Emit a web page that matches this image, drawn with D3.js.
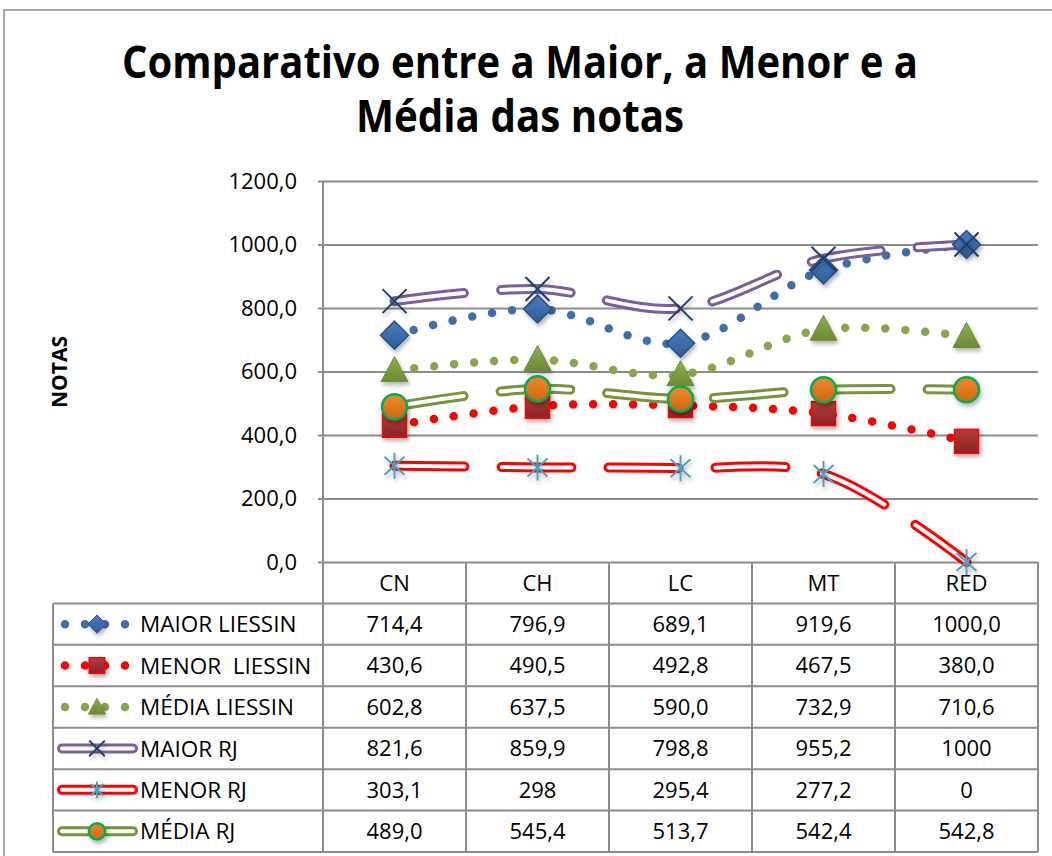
<!DOCTYPE html>
<html>
<head>
<meta charset="utf-8">
<script src="https://cdn.jsdelivr.net/npm/d3@7"></script>
<style>
  body { margin: 0; background: #fff; }
  text { font-family: "Open Sans", "Noto Sans", sans-serif; fill: #000; }
</style>
</head>
<body>
<div id="chart"></div>
<script>
var categories = ["CN", "CH", "LC", "MT", "RED"];
var seriesNames = ["MAIOR LIESSIN", "MENOR  LIESSIN", "MÉDIA LIESSIN", "MAIOR RJ", "MENOR RJ", "MÉDIA RJ"];

var maiorLiessin = [714.4, 796.9, 689.1, 919.6, 1000.0];
var menorLiessin = [430.6, 490.5, 492.8, 467.5, 380.0];
var mediaLiessin = [602.8, 637.5, 590.0, 732.9, 710.6];
var maiorRJ = [821.6, 859.9, 798.8, 955.2, 1000];
var menorRJ = [303.1, 298, 295.4, 277.2, 0];
var mediaRJ = [489.0, 545.4, 513.7, 542.4, 542.8];

// as printed in the data table
var maiorLiessinLabels = ["714,4", "796,9", "689,1", "919,6", "1000,0"];
var menorLiessinLabels = ["430,6", "490,5", "492,8", "467,5", "380,0"];
var mediaLiessinLabels = ["602,8", "637,5", "590,0", "732,9", "710,6"];
var maiorRJLabels = ["821,6", "859,9", "798,8", "955,2", "1000"];
var menorRJLabels = ["303,1", "298", "295,4", "277,2", "0"];
var mediaRJLabels = ["489,0", "545,4", "513,7", "542,4", "542,8"];

var yTicks = [0, 200, 400, 600, 800, 1000, 1200];

var width = 1052, height = 856;
var plotLeft = 323, plotRight = 1038, plotTop = 181, plotBottom = 562;
var tableLeft = 53, tableBottom = 852;

var series = [
  {name: seriesNames[0], values: maiorLiessin, labels: maiorLiessinLabels, style: "dot", color: "#3F6FAA", marker: "diamond"},
  {name: seriesNames[1], values: menorLiessin, labels: menorLiessinLabels, style: "dot", color: "#FF0000", marker: "square"},
  {name: seriesNames[2], values: mediaLiessin, labels: mediaLiessinLabels, style: "dot", color: "#8AA64C", marker: "triangle"},
  {name: seriesNames[3], values: maiorRJ, labels: maiorRJLabels, style: "hollow", color: "#7B5E9E", marker: "cross"},
  {name: seriesNames[4], values: menorRJ, labels: menorRJLabels, style: "hollow", color: "#FF0000", marker: "star"},
  {name: seriesNames[5], values: mediaRJ, labels: mediaRJLabels, style: "hollow", color: "#77933C", marker: "circle"}
];

var svg = d3.select("#chart")
    .append("svg")
    .attr("width", width)
    .attr("height", height);

var defs = svg.append("defs");

function grad(id, c1, c2) {
  var g = defs.append("linearGradient").attr("id", id)
      .attr("x1", 0).attr("y1", 0).attr("x2", 0).attr("y2", 1);
  g.append("stop").attr("offset", "0%").attr("stop-color", c1);
  g.append("stop").attr("offset", "100%").attr("stop-color", c2);
}
grad("gBlue", "#4A7EC0", "#2E5C97");
grad("gRed", "#B83B3B", "#8A2424");
grad("gGreen", "#8DB04D", "#6C8A33");
grad("gOrange", "#F08A2C", "#D2640E");

defs.append("filter").attr("id", "shadow")
    .attr("x", "-50%").attr("y", "-50%").attr("width", "200%").attr("height", "200%")
  .append("feDropShadow")
    .attr("dx", 1.5).attr("dy", 3).attr("stdDeviation", 2)
    .attr("flood-color", "#000").attr("flood-opacity", 0.3);

// outer frame
svg.append("rect")
    .attr("x", 4).attr("y", 10)
    .attr("width", width + 20).attr("height", height + 20)
    .attr("fill", "none").attr("stroke", "#8C8C8C").attr("stroke-width", 1.5);

// title
var titleLines = ["Comparativo entre a Maior, a Menor e a", "Média das notas"];
var titleWidths = [796, 328];
svg.selectAll(".title")
    .data(titleLines)
    .enter()
    .append("text")
    .attr("class", "title")
    .attr("x", 520)
    .attr("y", function(d, i) { return 78 + i * 54; })
    .attr("text-anchor", "middle")
    .attr("font-size", 44)
    .attr("font-weight", "bold")
    .attr("textLength", function(d, i) { return titleWidths[i]; })
    .attr("lengthAdjust", "spacingAndGlyphs")
    .text(function(d) { return d; });

var x = d3.scaleBand()
    .domain(categories)
    .range([plotLeft, plotRight]);

var y = d3.scaleLinear()
    .domain([0, 1200])
    .range([plotBottom, plotTop]);

function cx(i) { return x(categories[i]) + x.bandwidth() / 2; }

// gridlines
svg.append("g")
    .attr("transform", "translate(" + plotLeft + ",0)")
    .call(d3.axisLeft(y).tickValues(yTicks).tickSize(-(plotRight - plotLeft)).tickFormat(""))
    .call(function(g) {
      g.select(".domain").remove();
      g.selectAll("line").attr("stroke", "#8C8C8C").attr("stroke-width", 2);
    });

// y axis
svg.append("g")
    .attr("transform", "translate(" + plotLeft + ",0)")
    .call(d3.axisLeft(y)
      .tickValues(yTicks)
      .tickSize(5)
      .tickPadding(21)
      .tickFormat(function(d) { return d3.format(".1f")(d).replace(".", ","); }))
    .call(function(g) {
      g.select(".domain").attr("stroke", "#8C8C8C").attr("stroke-width", 2)
        .attr("d", "M0," + plotTop + "V" + tableBottom);
      g.selectAll(".tick line").attr("stroke", "#8C8C8C").attr("stroke-width", 2);
      g.selectAll(".tick text")
        .attr("font-size", 22)
        .attr("font-family", "'Open Sans', sans-serif")
        .attr("fill", "#000");
    });

svg.append("text")
    .attr("transform", "translate(67,372) rotate(-90)")
    .attr("text-anchor", "middle")
    .attr("font-size", 21)
    .attr("font-weight", "bold")
    .text("NOTAS");

// data table
var rowH = (tableBottom - plotBottom) / 7;
var table = svg.append("g").attr("stroke", "#8C8C8C").attr("stroke-width", 2);
d3.range(1, 8).forEach(function(r) {
  table.append("line")
      .attr("x1", tableLeft).attr("x2", plotRight)
      .attr("y1", plotBottom + r * rowH).attr("y2", plotBottom + r * rowH);
});
table.append("line")
    .attr("x1", tableLeft).attr("x2", tableLeft)
    .attr("y1", plotBottom + rowH).attr("y2", tableBottom);
categories.forEach(function(c, i) {
  table.append("line")
      .attr("x1", x(c) + x.bandwidth()).attr("x2", x(c) + x.bandwidth())
      .attr("y1", plotBottom).attr("y2", tableBottom);
});

svg.selectAll(".cat")
    .data(categories)
    .enter()
    .append("text")
    .attr("class", "cat")
    .attr("x", function(d, i) { return cx(i); })
    .attr("y", plotBottom + rowH / 2)
    .attr("dy", "0.36em")
    .attr("text-anchor", "middle")
    .attr("font-size", 22)
    .text(function(d) { return d; });

series.forEach(function(s, si) {
  var ry = plotBottom + (si + 1.5) * rowH;
  svg.append("g").selectAll("text")
      .data(s.labels)
      .enter()
      .append("text")
      .attr("x", function(d, i) { return cx(i); })
      .attr("y", ry)
      .attr("dy", "0.36em")
      .attr("text-anchor", "middle")
      .attr("font-size", 22)
      .text(function(d) { return d; });
  svg.append("text")
      .attr("x", 140)
      .attr("y", ry)
      .attr("dy", "0.36em")
      .attr("font-size", 22.5)
      .style("white-space", "pre")
      .text(s.name);
});

// lines
var line = d3.line()
    .x(function(d, i) { return cx(i); })
    .y(function(d) { return y(d); })
    .curve(d3.curveCatmullRom.alpha(0.5));

function drawLine(g, s, d) {
  if (s.style === "dot") {
    g.append("path")
        .attr("d", d)
        .attr("fill", "none")
        .attr("stroke", s.color)
        .attr("stroke-width", 8.5)
        .attr("stroke-linecap", "round")
        .attr("stroke-dasharray", "0 20");
  } else {
    g.append("path")
        .attr("d", d)
        .attr("fill", "none")
        .attr("stroke", s.color)
        .attr("stroke-width", 10)
        .attr("stroke-linecap", "round")
        .attr("stroke-dasharray", s.dash || "70 37");
    g.append("path")
        .attr("d", d)
        .attr("fill", "none")
        .attr("stroke", "#fff")
        .attr("stroke-width", 4)
        .attr("stroke-linecap", "round")
        .attr("stroke-dasharray", s.dash || "70 37");
  }
}

function drawMarker(g, type, k) {
  g.attr("filter", "url(#shadow)");
  if (type === "diamond") {
    g.append("path").attr("d", "M0,-14L14,0L0,14L-14,0Z").attr("transform", "scale(" + k + ")")
        .attr("fill", "url(#gBlue)").attr("stroke", "#2C4F80").attr("stroke-width", 1.5);
  } else if (type === "square") {
    g.append("rect").attr("x", -12 * k).attr("y", -12 * k).attr("width", 24 * k).attr("height", 24 * k)
        .attr("fill", "url(#gRed)").attr("stroke", "#FF0000").attr("stroke-width", 1.5);
  } else if (type === "triangle") {
    g.append("path").attr("d", "M0,-14L13.5,11L-13.5,11Z").attr("transform", "scale(" + k + ")")
        .attr("fill", "url(#gGreen)").attr("stroke", "#6E8A38").attr("stroke-width", 1);
  } else if (type === "cross") {
    g.append("path").attr("d", "M-12,-12L12,12M12,-12L-12,12").attr("transform", "scale(" + k + ")")
        .attr("stroke", "#1F3F6E").attr("stroke-width", 2 / k).attr("fill", "none");
  } else if (type === "star") {
    g.append("path").attr("d", "M0,-13V13M-10,-9L10,9M10,-9L-10,9").attr("transform", "scale(" + k + ")")
        .attr("stroke", "#4BA3C3").attr("stroke-width", 2 / k).attr("fill", "none");
  } else if (type === "circle") {
    g.append("circle").attr("r", 12.5 * k)
        .attr("fill", "url(#gOrange)").attr("stroke", "#00B050").attr("stroke-width", 2.5);
  }
}

var linesG = svg.append("g");
series.forEach(function(s) {
  drawLine(linesG, s, line(s.values));
});

var markersG = svg.append("g");
series.forEach(function(s) {
  markersG.append("g").selectAll("g")
      .data(s.values)
      .enter()
      .append("g")
      .attr("transform", function(d, i) { return "translate(" + cx(i) + "," + y(d) + ")"; })
      .each(function() { drawMarker(d3.select(this), s.marker, 1); });
});

// legend keys inside the table
series.forEach(function(s, si) {
  var ry = plotBottom + (si + 1.5) * rowH;
  var g = svg.append("g");
  if (s.style === "dot") {
    drawLine(g, s, "M65," + ry + "H126");
  } else {
    drawLine(g, {style: "hollow", color: s.color, dash: "none"}, "M62," + ry + "H133");
  }
  drawMarker(g.append("g").attr("transform", "translate(97," + ry + ")"), s.marker, 0.65);
});
</script>
</body>
</html>
